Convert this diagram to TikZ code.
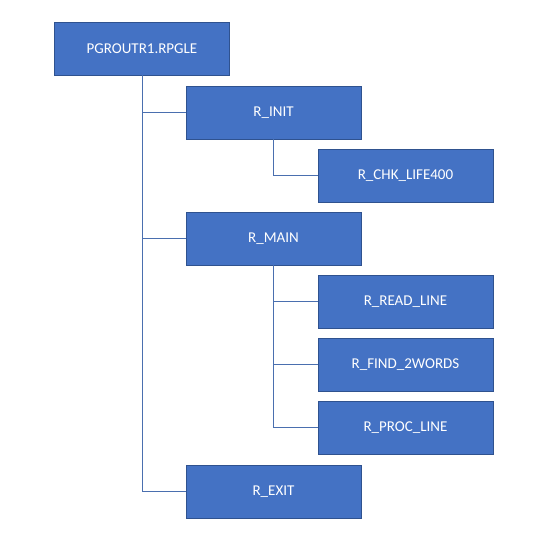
\documentclass[tikz,border=0pt]{standalone}
\usepackage{fontspec}
\setmainfont{Carlito}
\usepackage{tikz}
\definecolor{boxblue}{HTML}{4472C4}
\definecolor{boxedge}{HTML}{2F528F}
\definecolor{linkblue}{HTML}{4A6FAF}

\begin{document}
\begin{tikzpicture}[x=1pt,y=-1pt,
    routine/.style={rectangle,draw=boxedge,fill=boxblue,line width=0.9pt,
      minimum width=175pt,minimum height=53pt,inner sep=0pt,
      text=white,font=\fontsize{15}{17}\selectfont},
    link/.style={draw=linkblue,line width=0.9pt}]
      \useasboundingbox (0,0) rectangle (539,541);
      \node[routine] (pgm) at (142,48.5) {PGROUTR1.RPGLE};
      \node[routine] (init) at (273.5,112.5) {R\_INIT};
      \node[routine] (chk) at (405.5,175.5) {R\_CHK\_LIFE400};
      \node[routine] (main) at (273.5,238.5) {R\_MAIN};
      \node[routine] (read) at (405.5,301.5) {R\_READ\_LINE};
      \node[routine] (find) at (405.5,364.5) {R\_FIND\_2WORDS};
      \node[routine] (proc) at (405.5,427.5) {R\_PROC\_LINE};
      \node[routine] (exit) at (273.5,491.5) {R\_EXIT};
      \draw[link] (pgm) |- (init);
      \draw[link] (pgm) |- (main);
      \draw[link] (pgm) |- (exit);
      \draw[link] (init) |- (chk);
      \draw[link] (main) |- (read);
      \draw[link] (main) |- (find);
      \draw[link] (main) |- (proc);
    \end{tikzpicture}
\end{document}
